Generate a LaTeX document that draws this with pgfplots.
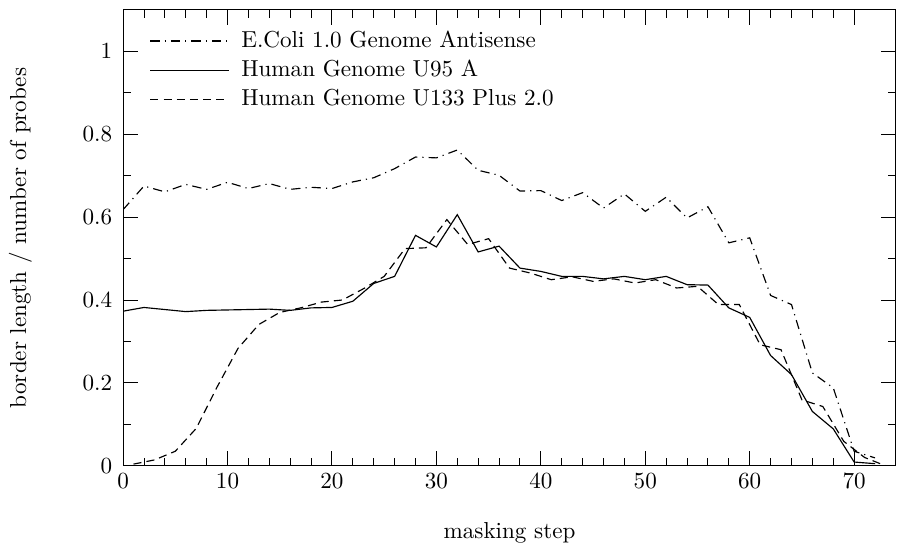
\documentclass[border=0pt]{standalone}
\usepackage{pgfplots}
\pgfplotsset{compat=1.18}
\begin{document}
\begin{tikzpicture}
\begin{axis}[
  scale only axis,
  width=334.7pt, height=197.4pt,
  xmin=0, xmax=74, ymin=0, ymax=1.1,
  xtick={0,10,...,70}, minor x tick num=4,
  ytick={0,0.2,...,1}, minor y tick num=1,
  major tick length=6.5pt, minor tick length=3.5pt,
  tick style={black, line width=0.4pt},
  yticklabel style={xshift=-1.2pt},
  xlabel={masking step},
  ylabel={border length / number of probes},
  xlabel style={at={(axis description cs:0.5,-0.147)}, anchor=center},
  ylabel style={at={(axis description cs:-0.133,0.5)}, anchor=center},
  legend cell align=left,
  legend style={at={(axis description cs:0.025,0.975)}, anchor=north west,
    draw=none, fill=none, row sep=0pt,
    nodes={inner xsep=5pt}},
  legend image code/.code={\draw[#1] (0cm,0cm) -- (1.2cm,0cm);},
  every axis plot/.append style={line width=0.5pt},
]
\addplot[black, dash pattern=on 4pt off 2.2pt on 0.5pt off 2.2pt] coordinates {
(0,0.618) (2,0.675) (4,0.661) (6,0.679) (8,0.667) (10,0.684) (12,0.669)
(14,0.681) (16,0.667) (18,0.672) (20,0.669) (22,0.685) (24,0.695) (26,0.717)
(28,0.745) (30,0.743) (32,0.762) (34,0.713) (36,0.701) (38,0.663) (40,0.664)
(42,0.640) (44,0.659) (46,0.622) (48,0.656) (50,0.614) (52,0.648) (54,0.598)
(56,0.625) (58,0.538) (60,0.550) (62,0.411) (64,0.389) (66,0.224) (68,0.188)
(70,0.035) (72,0.019)};
\addlegendentry{E.Coli 1.0 Genome Antisense}
\addplot[black] coordinates {
(0,0.373) (2,0.382) (4,0.377) (6,0.372) (8,0.375) (10,0.376) (12,0.377)
(14,0.378) (16,0.375) (18,0.381) (20,0.382) (22,0.397) (24,0.440) (26,0.457)
(28,0.556) (30,0.528) (32,0.606) (34,0.516) (36,0.530) (38,0.477) (40,0.469)
(42,0.457) (44,0.457) (46,0.451) (48,0.457) (50,0.449) (52,0.457) (54,0.437)
(56,0.436) (58,0.381) (60,0.358) (62,0.266) (64,0.220) (66,0.131) (68,0.089)
(70,0.009) (72,0.005)};
\addlegendentry{Human Genome U95 A}
\addplot[black, dash pattern=on 3.5pt off 2.2pt] coordinates {
(1,0.004) (3,0.014) (5,0.035) (7,0.090) (9,0.190) (11,0.283) (13,0.341)
(15,0.370) (17,0.381) (19,0.395) (21,0.400) (23,0.427) (25,0.457) (27,0.524)
(29,0.526) (31,0.594) (33,0.534) (35,0.548) (37,0.477) (39,0.465) (41,0.449)
(43,0.456) (45,0.445) (47,0.451) (49,0.441) (51,0.449) (53,0.429) (55,0.433)
(57,0.389) (59,0.389) (61,0.292) (63,0.280) (65,0.159) (67,0.143) (69,0.059)
(71,0.020) (73,0.000)};
\addlegendentry{Human Genome U133 Plus 2.0}
\end{axis}
% margins of the reference picture
\path (current axis.south west) ++(-53.3pt,-37.2pt);
\path (current axis.north east) ++(2.2pt,4.3pt);
\end{tikzpicture}
\end{document}
